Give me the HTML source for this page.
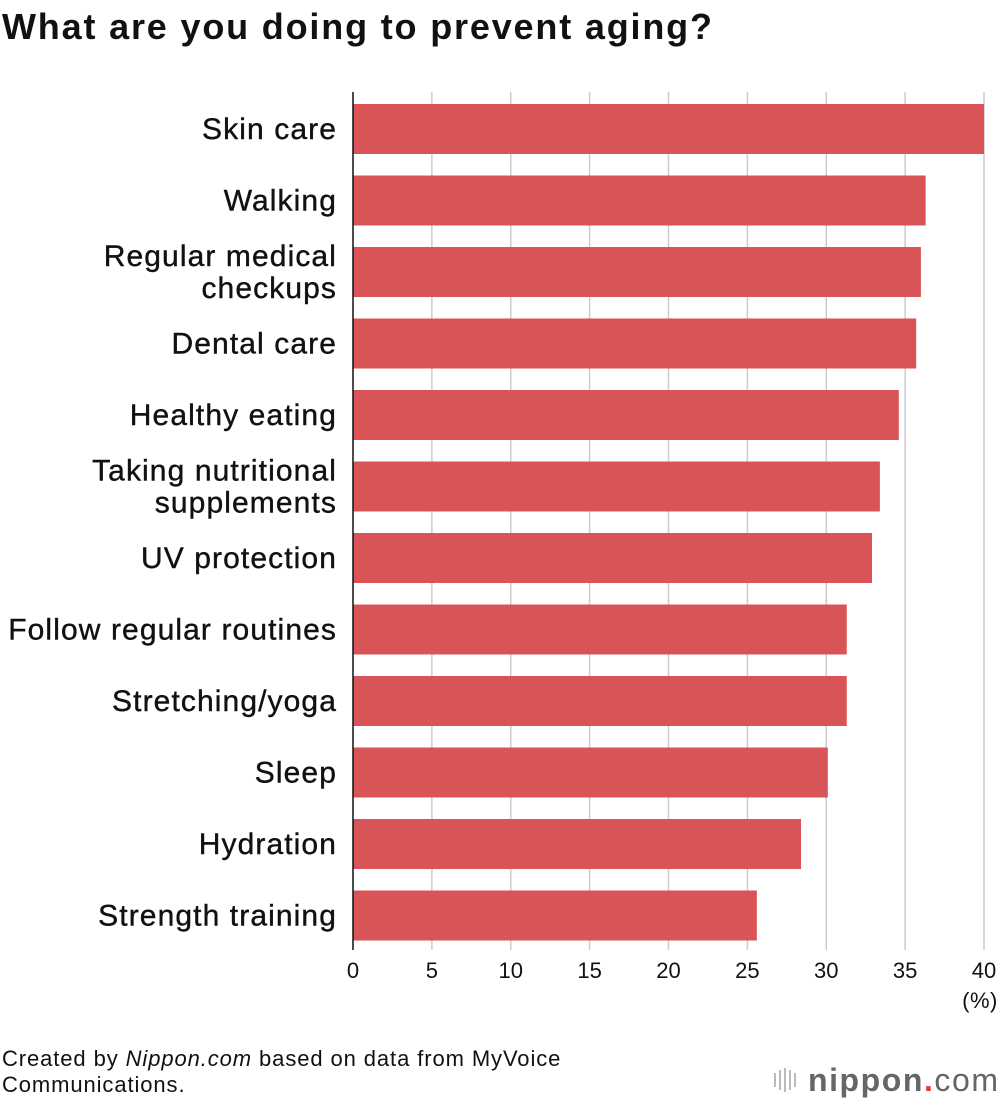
<!DOCTYPE html>
<html><head><meta charset="utf-8"><style>
body{margin:0;background:#fff;font-family:"Liberation Sans",sans-serif;}
</style></head><body>
<svg id="c" width="1000" height="1100" xmlns="http://www.w3.org/2000/svg" font-family="Liberation Sans, sans-serif">
<text x="2" y="39" font-size="36" font-weight="bold" fill="#111" textLength="710" lengthAdjust="spacing">What are you doing to prevent aging?</text>
<g id="grid"></g><g id="bars"></g><g id="labels"></g><g id="ticks"></g>
<line x1="353" y1="92" x2="353" y2="950" stroke="#111" stroke-width="1.5"/>
<text x="980" y="1008" font-size="22" text-anchor="middle" fill="#111" letter-spacing="0.5">(%)</text>
<text font-size="22" fill="#111" letter-spacing="0.9"><tspan x="2" y="1066">Created by <tspan font-style="italic">Nippon.com</tspan> based on data from MyVoice</tspan><tspan x="2" y="1092">Communications.</tspan></text>
<g>
<g stroke="#bbb" stroke-width="2"><line x1="775" y1="1073" x2="775" y2="1087"/><line x1="780" y1="1070" x2="780" y2="1090"/><line x1="785" y1="1068" x2="785" y2="1092"/><line x1="790" y1="1070" x2="790" y2="1090"/><line x1="795" y1="1073" x2="795" y2="1087"/></g>
<text x="808" y="1091" font-size="32" fill="#666" font-weight="bold" textLength="190" lengthAdjust="spacing">nippon<tspan fill="#e33">.</tspan><tspan font-weight="normal">com</tspan></text>
</g>
</svg>
<script>
const categories=["Skin care","Walking","Regular medical|checkups","Dental care","Healthy eating","Taking nutritional|supplements","UV protection","Follow regular routines","Stretching/yoga","Sleep","Hydration","Strength training"];
const values=[40,36.3,36.0,35.7,34.6,33.4,32.9,31.3,31.3,30.1,28.4,25.6];
const tickValues=[0,5,10,15,20,25,30,35,40];
const NS="http://www.w3.org/2000/svg";
const x=v=>353+v*(984-353)/40;
const yTop=i=>104+i*71.5;
const bh=50;
function mk(t,a,p){const e=document.createElementNS(NS,t);for(const k in a)e.setAttribute(k,a[k]);document.getElementById(p).appendChild(e);return e;}
tickValues.forEach(t=>{
 if(t>0){const g=mk('line',{x1:x(t),x2:x(t),y1:92,y2:950,stroke:'#ccc','stroke-width':1.5},'grid');
 
 }
 const tx=mk('text',{x:x(t),y:978,'font-size':22,'text-anchor':'middle',fill:'#111'},'ticks');tx.textContent=t;
 
 
});
categories.forEach((c,i)=>{
 const r=mk('rect',{x:x(0),y:yTop(i),width:x(values[i])-x(0),height:bh,fill:'#d95456'},'bars');
 
 
 const parts=c.split('|');const cy=yTop(i)+bh/2;
 parts.forEach((p,j)=>{
  const t=mk('text',{x:337,y:cy+10+(j-(parts.length-1)/2)*32,'font-size':30,'text-anchor':'end',fill:'#111','letter-spacing':1.1,stroke:'#111','stroke-width':0.4},'labels');t.textContent=p;
  
  
 });
});
</script>
</body></html>
